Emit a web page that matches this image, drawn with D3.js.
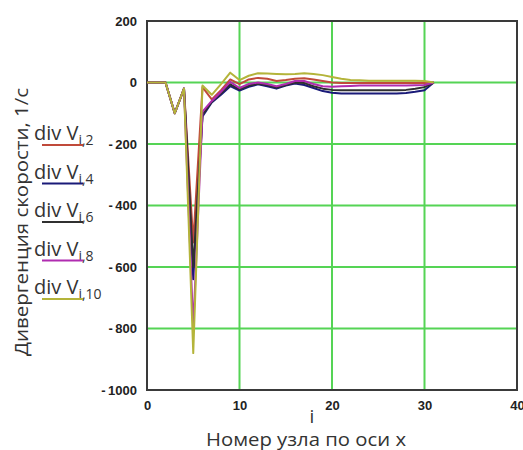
<!DOCTYPE html>
<html>
<head>
<meta charset="utf-8">
<script src="https://cdn.jsdelivr.net/npm/d3@7"></script>
<style>
  body { margin: 0; background: #fff; }
  svg { display: block; }
</style>
</head>
<body>
<div id="chart"></div>
<script>
// node index i
const nodes = [0, 1, 2, 3, 4, 5, 6, 7, 8, 9, 10, 11, 12, 13, 14, 15,
               16, 17, 18, 19, 20, 21, 22, 23, 24, 25, 26, 27, 28, 29, 30, 31];

// divergence values
const divV2  = [0, 0, 0, -100, -20, -520, -15, -55, -25, 10, -5, 10, 15, 12, 5, 8,
                12, 14, 10, 5, 0, -2, -2, -2, -2, -2, -2, -2, -2, -2, -2, 0];
const divV4  = [0, 0, 0, -100, -20, -640, -110, -65, -40, -12, -26, -14, -6, -12, -20, -10,
                -3, -8, -18, -28, -33, -36, -36, -36, -36, -36, -36, -36, -34, -30, -25, 0];
const divV6  = [0, 0, 0, -100, -20, -600, -105, -62, -35, -6, -22, -10, -4, -8, -16, -8,
                0, -2, -12, -20, -24, -25, -25, -25, -25, -25, -25, -25, -24, -20, -15, 0];
const divV8  = [0, 0, 0, -100, -20, -800, -95, -60, -30, 2, -18, -5, 0, -5, -12, -5,
                5, 5, -5, -12, -14, -12, -11, -10, -10, -10, -10, -10, -10, -9, -8, 0];
const divV10 = [0, 0, 0, -100, -20, -880, -10, -40, -5, 32, 8, 22, 30, 29, 28, 27,
                28, 30, 28, 24, 18, 12, 8, 7, 6, 6, 6, 6, 6, 6, 5, 0];

const seriesNames = ["2", "4", "6", "8", "10"];
const seriesColors = ["#c04a3a", "#1a1a78", "#303030", "#b02cb0", "#b4b43a"];
const seriesValues = [divV2, divV4, divV6, divV8, divV10];

const xTicks = [0, 10, 20, 30, 40];
const yTicks = [200, 0, -200, -400, -600, -800, -1000];
const xGrid = [10, 20, 30];
const yGrid = [0, -200, -400, -600, -800];

const W = 523, H = 450;
const plot = { left: 147, right: 517, top: 21, bottom: 390 };

const svg = d3.select("#chart").append("svg")
    .attr("width", W).attr("height", H);

const x = d3.scaleLinear().domain([0, 40]).range([plot.left, plot.right]);
const y = d3.scaleLinear().domain([-1000, 200]).range([plot.bottom, plot.top]);

// grid
svg.append("g").selectAll("line").data(xGrid).enter().append("line")
    .attr("x1", d => x(d)).attr("x2", d => x(d))
    .attr("y1", plot.top).attr("y2", plot.bottom)
    .attr("stroke", "#55d455").attr("stroke-width", 2);
svg.append("g").selectAll("line").data(yGrid).enter().append("line")
    .attr("x1", plot.left).attr("x2", plot.right)
    .attr("y1", d => y(d)).attr("y2", d => y(d))
    .attr("stroke", "#55d455").attr("stroke-width", 2);

// frame
svg.append("rect")
    .attr("x", plot.left).attr("y", plot.top)
    .attr("width", plot.right - plot.left).attr("height", plot.bottom - plot.top)
    .attr("fill", "none").attr("stroke", "#3a3a3a").attr("stroke-width", 2);

// lines
const line = d3.line().x((d, k) => x(nodes[k])).y(d => y(d));
seriesValues.forEach((vals, s) => {
    svg.append("path")
        .datum(vals)
        .attr("d", line)
        .attr("fill", "none")
        .attr("stroke", seriesColors[s])
        .attr("stroke-width", 2)
        .attr("stroke-linejoin", "round");
});

// axes
const fmt = d => d < 0 ? "-\u2009" + (-d) : String(d);
const tickFont = g => g.selectAll("text")
    .style("font-family", "'Liberation Sans', Arial, sans-serif")
    .style("font-weight", "bold")
    .style("font-size", "13px")
    .attr("fill", "#222");

const yAxis = svg.append("g")
    .attr("transform", `translate(${plot.left},0)`)
    .call(d3.axisLeft(y).tickValues(yTicks).tickFormat(fmt).tickSize(0).tickPadding(10));
yAxis.select(".domain").remove();
yAxis.call(tickFont);

const xAxis = svg.append("g")
    .attr("transform", `translate(0,${plot.bottom})`)
    .call(d3.axisBottom(x).tickValues(xTicks).tickSize(0).tickPadding(11));
xAxis.select(".domain").remove();
xAxis.call(tickFont);

// axis titles
const labelFont = "'Open Sans', 'Noto Sans', sans-serif";
svg.append("text")
    .attr("transform", "translate(28,222) rotate(-90)")
    .attr("text-anchor", "middle")
    .attr("textLength", 268).attr("lengthAdjust", "spacingAndGlyphs")
    .style("font-family", labelFont).style("font-size", "19px")
    .attr("fill", "#333")
    .text("Дивергенция скорости, 1/с");

svg.append("text")
    .attr("x", 312).attr("y", 423)
    .attr("text-anchor", "middle")
    .style("font-family", labelFont).style("font-size", "19px")
    .attr("fill", "#333")
    .text("i");

svg.append("text")
    .attr("x", 306).attr("y", 446)
    .attr("text-anchor", "middle")
    .attr("textLength", 200).attr("lengthAdjust", "spacingAndGlyphs")
    .style("font-family", labelFont).style("font-size", "18px")
    .attr("fill", "#333")
    .text("Номер узла по оси x");

// legend
const legend = svg.append("g");
seriesNames.forEach((name, s) => {
    const by = 140 + s * 38.5;
    const t = legend.append("text")
        .attr("x", 34).attr("y", by)
        .style("font-family", labelFont).style("font-size", "20px")
        .attr("fill", "#333");
    t.append("tspan").text("div V");
    t.append("tspan").attr("dy", 5).style("font-size", "14px").text("i," + name);
    legend.append("line")
        .attr("x1", 42).attr("x2", 83)
        .attr("y1", by + 5).attr("y2", by + 5)
        .attr("stroke", seriesColors[s]).attr("stroke-width", 2);
});
</script>
</body>
</html>
